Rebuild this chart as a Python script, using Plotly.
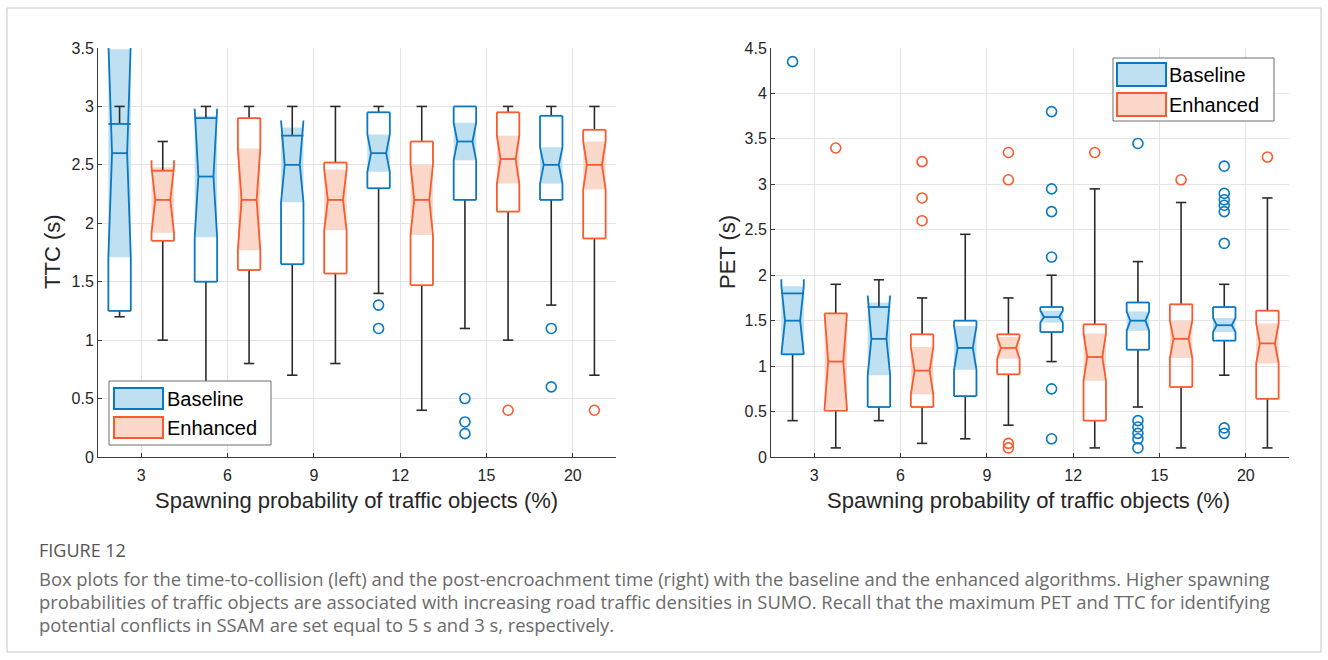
import plotly.graph_objects as go

# ---------------- data ----------------
groups = ["3", "6", "9", "12", "15", "20"]

# TTC (s) - Baseline
ttc_b_q1 = [1.25, 1.50, 1.65, 2.30, 2.20, 2.20]
ttc_b_med = [2.60, 2.40, 2.50, 2.60, 2.70, 2.50]
ttc_b_q3 = [2.85, 2.90, 2.75, 2.95, 3.00, 2.92]
ttc_b_nlo = [1.71, 1.88, 2.18, 2.44, 2.54, 2.34]
ttc_b_nhi = [3.49, 2.92, 2.82, 2.76, 2.86, 2.65]
ttc_b_wlo = [1.20, 0.50, 0.70, 1.40, 1.10, 1.30]
ttc_b_whi = [3.00, 3.00, 3.00, 3.00, 3.00, 3.00]
ttc_b_out = [[], [], [], [1.30, 1.10], [0.50, 0.30, 0.20], [1.10, 0.60]]

# TTC (s) - Enhanced
ttc_e_q1 = [1.85, 1.60, 1.57, 1.47, 2.10, 1.87]
ttc_e_med = [2.20, 2.20, 2.20, 2.20, 2.55, 2.50]
ttc_e_q3 = [2.45, 2.90, 2.52, 2.70, 2.95, 2.80]
ttc_e_nlo = [1.92, 1.77, 1.94, 1.90, 2.34, 2.29]
ttc_e_nhi = [2.48, 2.64, 2.46, 2.50, 2.75, 2.70]
ttc_e_wlo = [1.00, 0.80, 0.80, 0.40, 1.00, 0.70]
ttc_e_whi = [2.70, 3.00, 3.00, 3.00, 3.00, 3.00]
ttc_e_out = [[], [], [], [], [0.40], [0.40]]

# PET (s) - Baseline
pet_b_q1 = [1.13, 0.55, 0.67, 1.375, 1.18, 1.28]
pet_b_med = [1.50, 1.30, 1.20, 1.54, 1.50, 1.45]
pet_b_q3 = [1.80, 1.65, 1.50, 1.65, 1.70, 1.65]
pet_b_nlo = [1.13, 0.90, 0.96, 1.48, 1.39, 1.375]
pet_b_nhi = [1.88, 1.70, 1.44, 1.61, 1.60, 1.53]
pet_b_wlo = [0.40, 0.40, 0.20, 1.05, 0.55, 0.90]
pet_b_whi = [1.80, 1.95, 2.45, 2.00, 2.15, 1.90]
pet_b_out = [[4.35], [], [], [3.80, 2.95, 2.70, 2.20, 0.75, 0.20],
             [3.45, 0.40, 0.33, 0.26, 0.20, 0.10],
             [3.20, 2.90, 2.83, 2.77, 2.70, 2.35, 0.32, 0.26]]

# PET (s) - Enhanced
pet_e_q1 = [0.51, 0.55, 0.91, 0.40, 0.77, 0.64]
pet_e_med = [1.05, 0.95, 1.20, 1.10, 1.30, 1.25]
pet_e_q3 = [1.58, 1.35, 1.35, 1.46, 1.68, 1.61]
pet_e_nlo = [0.53, 0.69, 1.08, 0.84, 1.09, 1.03]
pet_e_nhi = [1.57, 1.21, 1.32, 1.36, 1.50, 1.47]
pet_e_wlo = [0.10, 0.15, 0.35, 0.10, 0.10, 0.10]
pet_e_whi = [1.90, 1.75, 1.75, 2.95, 2.80, 2.85]
pet_e_out = [[3.40], [3.25, 2.85, 2.60], [3.35, 3.05, 0.15, 0.10], [3.35], [3.05], [3.30]]

series_names = ["Baseline", "Enhanced"]
caption_title = "FIGURE 12"
caption_lines = [
    "Box plots for the time-to-collision (left) and the post-encroachment time (right) with the baseline and the enhanced algorithms. Higher spawning",
    "probabilities of traffic objects are associated with increasing road traffic densities in SUMO. Recall that the maximum PET and TTC for identifying",
    "potential conflicts in SSAM are set equal to 5 s and 3 s, respectively.",
]

# ---------------- style ----------------
W, H = 1328, 660
BLUE, BLUE_F = "#0a78c2", "#bfe0f1"
ORNG, ORNG_F = "#fb5a2c", "#fcd8cb"
WHISK = "#2b2b2b"
BW = 0.52      # box width (x units)
INSET = 0.085  # notch inset
CAPW = 0.24    # cap width
FONT = "Liberation Sans, Arial, sans-serif"

fig = go.Figure()


def add_boxes(xa, ya, pos, q1, med, q3, nlo, nhi, wlo, whi, outl, lc, fc, ext):
    # notch fill
    fx, fy = [], []
    for p, a, b in zip(pos, nlo, nhi):
        L, R = p - BW / 2, p + BW / 2
        fx += [L, R, R, L, L, None]
        fy += [a, a, b, b, a, None]
    fig.add_trace(go.Scatter(x=fx, y=fy, mode="lines", fill="toself", fillcolor=fc,
                             line=dict(width=0, color=fc), hoverinfo="skip",
                             showlegend=False, xaxis=xa, yaxis=ya))
    # whiskers
    wx, wy = [], []
    for p, a, b, lo, hi in zip(pos, q1, q3, wlo, whi):
        if lo < a:
            wx += [p, p, None, p - CAPW / 2, p + CAPW / 2, None]
            wy += [a, lo, None, lo, lo, None]
        if hi > b:
            wx += [p, p, None, p - CAPW / 2, p + CAPW / 2, None]
            wy += [b, hi, None, hi, hi, None]
    fig.add_trace(go.Scatter(x=wx, y=wy, mode="lines", line=dict(color=WHISK, width=1.6),
                             hoverinfo="skip", showlegend=False, xaxis=xa, yaxis=ya))
    # notched outline
    ox, oy = [], []
    for p, a, m, b, nl, nh in zip(pos, q1, med, q3, nlo, nhi):
        L, R = p - BW / 2, p + BW / 2
        lo = min(a, nl - ext) if nl < a else a
        hi = max(b, nh + ext) if nh > b else b
        ox += [L, L, L + INSET, L, L, None, R, R, R - INSET, R, R, None,
               L, R, None, L, R, None, L + INSET, R - INSET, None]
        oy += [lo, nl, m, nh, hi, None, lo, nl, m, nh, hi, None,
               a, a, None, b, b, None, m, m, None]
    fig.add_trace(go.Scatter(x=ox, y=oy, mode="lines", line=dict(color=lc, width=1.8),
                             hoverinfo="skip", showlegend=False, xaxis=xa, yaxis=ya))
    # outliers
    px, py = [], []
    for p, vals in zip(pos, outl):
        px += [p] * len(vals)
        py += vals
    fig.add_trace(go.Scatter(x=px, y=py, mode="markers",
                             marker=dict(symbol="circle-open", size=10, color=lc,
                                         line=dict(width=1.6, color=lc)),
                             showlegend=False, xaxis=xa, yaxis=ya))


pos_b = [2 * i + 1 for i in range(len(groups))]
pos_e = [2 * i + 2 for i in range(len(groups))]

add_boxes("x", "y", pos_b, ttc_b_q1, ttc_b_med, ttc_b_q3, ttc_b_nlo, ttc_b_nhi,
          ttc_b_wlo, ttc_b_whi, ttc_b_out, BLUE, BLUE_F, 0.06)
add_boxes("x", "y", pos_e, ttc_e_q1, ttc_e_med, ttc_e_q3, ttc_e_nlo, ttc_e_nhi,
          ttc_e_wlo, ttc_e_whi, ttc_e_out, ORNG, ORNG_F, 0.06)
add_boxes("x2", "y2", pos_b, pet_b_q1, pet_b_med, pet_b_q3, pet_b_nlo, pet_b_nhi,
          pet_b_wlo, pet_b_whi, pet_b_out, BLUE, BLUE_F, 0.077)
add_boxes("x2", "y2", pos_e, pet_e_q1, pet_e_med, pet_e_q3, pet_e_nlo, pet_e_nhi,
          pet_e_wlo, pet_e_whi, pet_e_out, ORNG, ORNG_F, 0.077)

tickvals = [2 * i + 1.5 for i in range(len(groups))]


def px2x(p):
    return p / W


def py2y(p):
    return 1 - p / H


ydom = [py2y(457), py2y(48)]
axis_common = dict(showline=True, linecolor="#3a3a3a", linewidth=1, ticks="inside",
                   ticklen=4, tickcolor="#3a3a3a", showgrid=True, gridcolor="#e4e4e4",
                   gridwidth=1, zeroline=False, automargin=False,
                   tickfont=dict(family=FONT, size=16, color="#262626"))

fig.update_layout(
    width=W, height=H, margin=dict(l=0, r=0, t=0, b=0),
    paper_bgcolor="white", plot_bgcolor="white", showlegend=False,
    xaxis=dict(domain=[px2x(98), px2x(616)], range=[0.5, 12.5], tickvals=tickvals,
               ticktext=groups, anchor="y", ticklabelstandoff=4, **axis_common),
    yaxis=dict(domain=ydom, range=[0, 3.5], dtick=0.5, anchor="x", **axis_common),
    xaxis2=dict(domain=[px2x(771), px2x(1289)], range=[0.5, 12.5], tickvals=tickvals,
                ticktext=groups, anchor="y2", ticklabelstandoff=4, **axis_common),
    yaxis2=dict(domain=ydom, range=[0, 4.5], dtick=0.5, anchor="x2", **axis_common),
)

shapes = []
annotations = []

# outer frame
shapes.append(dict(type="rect", xref="paper", yref="paper", x0=px2x(7), x1=px2x(1321),
                   y0=py2y(652), y1=py2y(8), line=dict(color="#c8c8c8", width=1),
                   fillcolor="rgba(0,0,0,0)", layer="below"))


def add_legend(bx0, by0, bx1, by1, sw_x0, sw_rows, text_x):
    shapes.append(dict(type="rect", xref="paper", yref="paper", x0=px2x(bx0), x1=px2x(bx1),
                       y0=py2y(by1), y1=py2y(by0), line=dict(color="#6e6e6e", width=1),
                       fillcolor="white", layer="above"))
    for (r0, r1), lc, fc, name in zip(sw_rows, [BLUE, ORNG], [BLUE_F, ORNG_F], series_names):
        shapes.append(dict(type="rect", xref="paper", yref="paper", x0=px2x(sw_x0),
                           x1=px2x(sw_x0 + 49), y0=py2y(r1), y1=py2y(r0),
                           line=dict(color=lc, width=2), fillcolor=fc, layer="above"))
        annotations.append(dict(xref="paper", yref="paper", x=px2x(text_x),
                                y=py2y((r0 + r1) / 2), text=name, showarrow=False,
                                xanchor="left", yanchor="middle",
                                font=dict(family=FONT, size=20, color="black")))


add_legend(109, 381, 271, 445, 114, [(388, 409), (417, 438)], 165)
add_legend(1113, 58, 1274, 121, 1117, [(63, 86), (93, 116)], 1167)

# axis titles
annotations.append(dict(xref="paper", yref="paper", x=px2x(52), y=py2y(252), text="TTC (s)",
                        textangle=-90, showarrow=False, xanchor="center", yanchor="middle",
                        font=dict(family=FONT, size=22, color="#262626")))
annotations.append(dict(xref="paper", yref="paper", x=px2x(727), y=py2y(252), text="PET (s)",
                        textangle=-90, showarrow=False, xanchor="center", yanchor="middle",
                        font=dict(family=FONT, size=22, color="#262626")))
for cx in [356, 1028]:
    annotations.append(dict(xref="paper", yref="paper", x=px2x(cx), y=py2y(500),
                            text="Spawning probability of traffic objects (%)",
                            showarrow=False, xanchor="center", yanchor="middle",
                            font=dict(family=FONT, size=22, color="#262626")))

# caption
annotations.append(dict(xref="paper", yref="paper", x=px2x(37), y=py2y(550), text=caption_title,
                        showarrow=False, xanchor="left", yanchor="middle",
                        font=dict(family="Open Sans, sans-serif", size=18, color="#555555")))
for i, line in enumerate(caption_lines):
    annotations.append(dict(xref="paper", yref="paper", x=px2x(37), y=py2y(578 + 23 * i),
                            text=line, showarrow=False, xanchor="left", yanchor="middle",
                            align="left",
                            font=dict(family="Open Sans, sans-serif", size=18.4, color="#6a6a6a")))

fig.update_layout(shapes=shapes, annotations=annotations)

fig.write_html("out.html")
